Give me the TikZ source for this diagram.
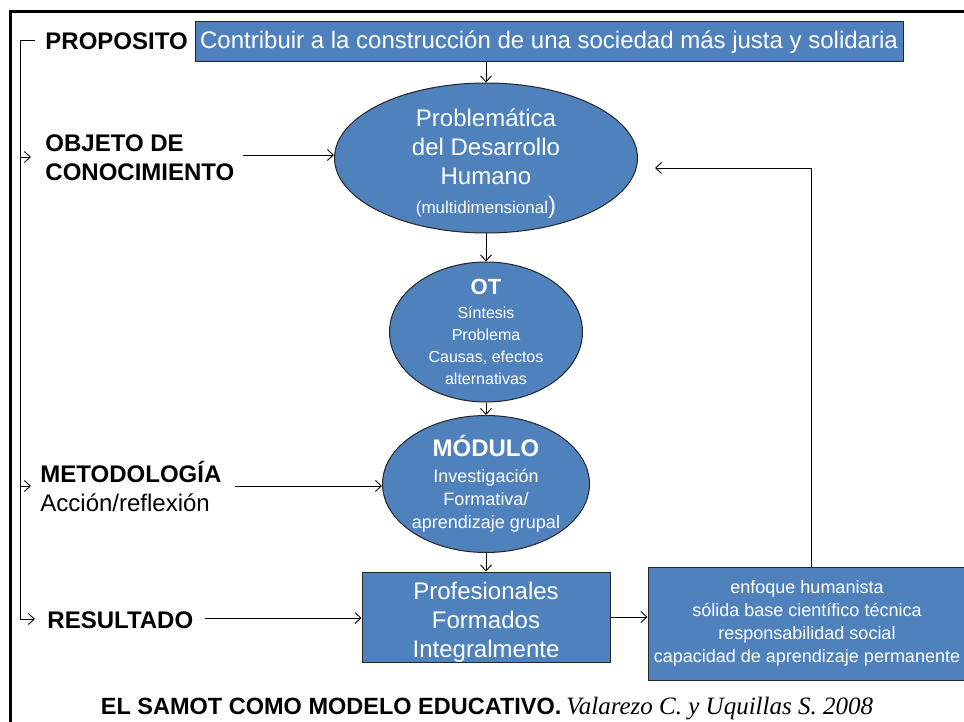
\documentclass[tikz,border=0pt]{standalone}
\usepackage{fontspec}
\setmainfont{Liberation Sans}
\newfontfamily\capserif{Liberation Serif}
\usepackage{tikz}
\usetikzlibrary{shapes.geometric,arrows.meta}
\definecolor{boxblue}{HTML}{4F81BD}
\definecolor{boxline}{HTML}{262626}

\tikzset{
  bluebox/.style={rectangle,draw=boxline,fill=boxblue,text=white,line width=1pt,inner sep=0pt,align=center},
  blueoval/.style={ellipse,draw=boxline,fill=boxblue,text=white,line width=1pt,inner sep=-12pt,align=center},
  sidelabel/.style={anchor=west,inner sep=0pt,align=left,font=\fontsize{24}{29}\selectfont\bfseries},
}

\begin{document}
\begin{tikzpicture}[x=1pt,y=-1pt,>={Straight Barb[length=6pt,width=11pt,line width=0.9pt]},line width=0.9pt]
\useasboundingbox (0,0) rectangle (964,722);
% frame
\draw[line width=3pt] (10,724) -- (10,12) -- (970,12);

% central column
\node[bluebox,minimum width=708,minimum height=40,font=\fontsize{24}{29}\selectfont] (purpose) at (549,42) {Contribuir a la construcción de una sociedad más justa y solidaria};
\node[blueoval,minimum width=303,minimum height=150,font=\fontsize{24}{29}\selectfont] (problem) at (486,158) {\rule{0pt}{28pt}Problemática\\del Desarrollo\\Humano\\{\fontsize{17}{29}\selectfont(multidimensional}){}};
\node[blueoval,minimum width=193,minimum height=140,font=\fontsize{16}{22}\selectfont] (ot) at (486,332) {{\bfseries\fontsize{22}{25}\selectfont OT}\\[2pt]Síntesis\\Problema\\Causas, efectos\\alternativas};
\node[blueoval,minimum width=207,minimum height=137,font=\fontsize{18}{23}\selectfont] (module) at (486,484) {{\bfseries\fontsize{24}{26}\selectfont MÓDULO}\\[3pt]Investigación\\Formativa/\\aprendizaje grupal};
\node[bluebox,minimum width=248,minimum height=90,font=\fontsize{24}{29}\selectfont] (grads) at (486,617) {\rule{0pt}{27pt}Profesionales\\Formados\\Integralmente};
\node[bluebox,minimum width=318,minimum height=113,font=\fontsize{18}{23}\selectfont] (traits) at (807,623.5) {enfoque humanista\\sólida base científico técnica\\responsabilidad social\\capacidad de aprendizaje permanente};

% labels on the left
\node[sidelabel] (purposelbl) at (45,41) {PROPOSITO};
\node[sidelabel] (objlbl) at (45,158) {OBJETO DE\\CONOCIMIENTO};
\node[sidelabel] (methlbl) at (40,486) {METODOLOGÍA\\{\mdseries Acción/reflexión}};
\node[sidelabel] (resultlbl) at (47,620) {RESULTADO};

% caption
\node[anchor=base,inner sep=0pt] (caption) at (487,714) {{\bfseries\fontsize{23.5}{28}\selectfont EL SAMOT COMO MODELO EDUCATIVO.}\hspace{5pt}{\capserif\itshape\fontsize{25}{28}\selectfont Valarezo C. y Uquillas S. 2008}};

% flow
\draw[->] (purpose.south -| problem.north) -- (problem.north);
\draw[->] (problem) -- (ot);
\draw[->] (ot) -- (module);
\draw[->] (module) -- (grads);
\draw[->] (grads.east) -- (grads.east -| traits.west);
\coordinate (backto) at (655,168);
\draw[->] ([xshift=4pt]traits.north) |- (backto);

% inputs
\coordinate (objfrom) at (243,155);
\coordinate (methfrom) at (235,486);
\coordinate (resfrom) at (205,618);
\draw[->] (objfrom) -- (objfrom -| problem.west);
\draw[->] (methfrom) -- (methfrom -| module.west);
\draw[->] (resfrom) -- (resfrom -| grads.west);

% bracket
\coordinate (brtop) at (35,40);
\coordinate (brbot) at (35,619);
\coordinate (brobj) at (31,157);
\coordinate (brmeth) at (31,486);
\draw[->] (brtop) -- ++(-15,0) |- (brbot);
\draw[->] (brobj -| 20,0) -- (brobj);
\draw[->] (brmeth -| 20,0) -- (brmeth);
\end{tikzpicture}
\end{document}
